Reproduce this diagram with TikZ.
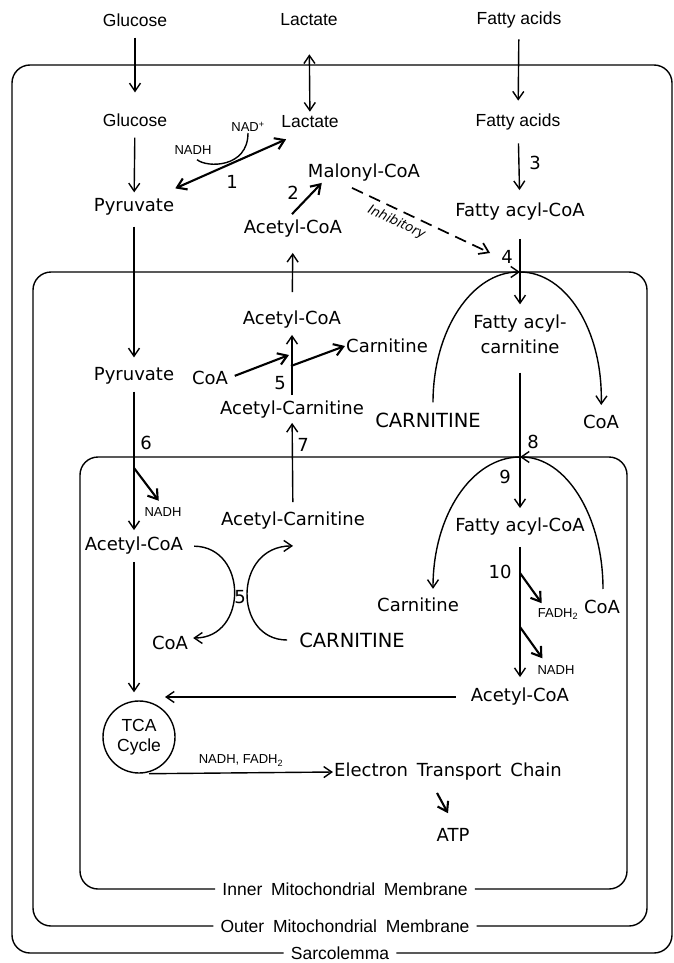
\documentclass[tikz,border=0pt]{standalone}
\usepackage{fontspec}
\setmainfont{DejaVu Sans}
\newfontfamily\narrowfont{Liberation Sans}
\usetikzlibrary{arrows.meta}

\tikzset{
  lbl/.style={font=\fontsize{18}{20}\selectfont, inner sep=1pt},
  nlbl/.style={font=\narrowfont\fontsize{17.5}{20}\selectfont, inner sep=1pt},
  sml/.style={font=\narrowfont\fontsize{13}{14}\selectfont, inner sep=1pt},
  num/.style={font=\fontsize{18}{20}\selectfont, inner sep=1pt},
  caps/.style={font=\fontsize{19.5}{20}\selectfont, inner sep=1pt},
  mlbl/.style={font=\narrowfont\fontsize{17.5}{20}\selectfont, inner sep=7pt},
  arr/.style={line width=1.4pt, -{Straight Barb[length=8pt,width=11pt]}},
  rxn/.style={line width=2.1pt, -{Straight Barb[length=9pt,width=12pt]}},
  membrane/.style={line width=1.4pt, rounded corners=18pt},
}

\begin{document}
\begin{tikzpicture}[x=1pt,y=-1pt]
\useasboundingbox (0,0) rectangle (674,963);

\node[nlbl] (glcOut) at (135,20) {Glucose};
\node[nlbl] (lacOut) at (309,20) {Lactate};
\node[nlbl] (faOut) at (519,20) {Fatty acids};

\node[nlbl] (glc) at (135,120) {Glucose};
\node[nlbl] (lac) at (310,122) {Lactate};
\node[nlbl] (fa) at (518,122) {Fatty acids};
\node[lbl] (pyr) at (134,207) {Pyruvate};
\node[sml] (nadhA) at (193,150) {NADH};
\node[sml] (nadp) at (248,127) {NAD\textsuperscript{+}};
\node[num] (n1) at (232,182) {1};
\node[lbl] (malcoa) at (364,173) {Malonyl-CoA};
\node[num] (n2) at (293,193) {2};
\node[lbl] (accoaA) at (293,229) {Acetyl-CoA};
\node[lbl] (facoaA) at (520,212) {Fatty acyl-CoA};
\node[num] (n3) at (535,163) {3};
\node[num] (n4) at (507,257) {4};

\node[lbl] (accoaB) at (292,320) {Acetyl-CoA};
\node[lbl] (coaA) at (210,378) {CoA};
\node[lbl] (carA) at (387,346) {Carnitine};
\node[num] (n5A) at (280,383) {5};
\node[lbl] (acarA) at (292,410) {Acetyl-Carnitine};
\node[lbl, align=center, font=\fontsize{18}{25}\selectfont] (facar) at (520,334) {Fatty acyl-\\carnitine};
\node[caps] (carnA) at (428,420) {CARNITINE};
\node[lbl] (coaB) at (601,422) {CoA};
\node[lbl] (pyrB) at (134,376) {Pyruvate};
\node[num] (n6) at (146,443) {6};
\node[num] (n7) at (303,445) {7};
\node[num] (n8) at (533,442) {8};

\node[num] (n9) at (505,477) {9};
\node[sml] (nadhB) at (163,512) {NADH};
\node[lbl] (accoaC) at (134,546) {Acetyl-CoA};
\node[lbl] (acarB) at (293,521) {Acetyl-Carnitine};
\node[num] (n5B) at (240,597) {5};
\node[lbl] (coaC) at (170,643) {CoA};
\node[caps] (carnB) at (352,640) {CARNITINE};
\node[lbl] (facoaB) at (520,527) {Fatty acyl-CoA};
\node[num] (n10) at (500,572) {10};
\node[lbl] (carB) at (418,605) {Carnitine};
\node[sml] (fadh) at (558,614) {FADH\textsubscript{2}};
\node[lbl] (coaD) at (602,607) {CoA};
\node[sml] (nadhC) at (556,670) {NADH};
\node[lbl] (accoaD) at (520,697) {Acetyl-CoA};
\node[nlbl, draw, circle, line width=1.4pt, minimum size=72pt, align=center] (tca) at (139,737) {TCA\\Cycle};
\node[lbl] (etc) at (448,772) {Electron\enspace Transport\enspace Chain};
\node[lbl] (atp) at (453,835) {ATP};

\coordinate (j4) at (520,272);
\coordinate (j8) at (520,457);
\coordinate (j5in) at (289,355);
\coordinate (j5out) at (291,366);
\coordinate (j6) at (134,468);
\coordinate (j10a) at (520,573);
\coordinate (j10b) at (520,627);
\coordinate (tcaIn) at (165,697);

\node[mlbl] (sarc) at (340,953) {Sarcolemma};
\node[mlbl] (outer) at (345,926) {Outer\enspace Mitochondrial\enspace Membrane};
\node[mlbl] (inner) at (345,889) {Inner\enspace Mitochondrial\enspace Membrane};
\draw[membrane] (sarc.east) -| (672,65) -| (12,953) -- (sarc.west);
\draw[membrane] (outer.east) -| (647,272) -| (33,926) -- (outer.west);
\draw[membrane] (inner.east) -| (627,457) -| (80,889) -- (inner.west);

\draw[arr, shorten <=10pt, shorten >=20pt] (glcOut) -- (glc);
\draw[line width=1.4pt, {Straight Barb[length=8pt,width=11pt]}-{Straight Barb[length=8pt,width=11pt]}, shorten <=27pt, shorten >=3pt] (lacOut) -- (lac);
\draw[arr, shorten <=10pt, shorten >=12pt] (faOut) -- (fa);
\draw[arr, shorten <=10pt, shorten >=5pt] (glc) -- (pyr);
\draw[rxn, {Straight Barb[length=9pt,width=12pt]}-{Straight Barb[length=9pt,width=12pt]}] ([shift={(6,10)}]lac.south west) -- ([shift={(0,-9)}]pyr.north east);
\draw[line width=1.4pt] ([shift={(4,4)}]nadhA.south) .. controls (207,168) and (248,168) .. (nadp.south);
\draw[rxn] ([shift={(-1,-5)}]accoaA.north) -- ([xshift=15pt]malcoa.south west);
\draw[line width=1.7pt, dash pattern=on 12pt off 7pt, -{Straight Barb[length=9pt,width=12pt]}] ([shift={(-12,5)}]malcoa.south) -- ([shift={(-10,-4)}]n4.west)
  node[pos=0.36, sloped, below=5pt, font=\itshape\fontsize{13}{14}\selectfont, inner sep=0pt] (inh) {Inhibitory};
\draw[arr, shorten <=12pt, shorten >=12pt] (fa) -- (facoaA);

\draw[arr, shorten <=17pt, shorten >=9pt] (facoaA) -- (facar);
\draw[arr, shorten <=9pt] ([xshift=5pt]carnA.north) .. controls (433,330) and (472,272) .. (j4);
\draw[arr, shorten >=9pt] (j4) .. controls (566,272) and (603,330) .. (coaB.north);
\draw[arr, shorten <=18pt, shorten >=9pt] (facar) -- (facoaB);
\draw[arr, shorten >=8pt] (j8) .. controls (472,457) and (433,515) .. ([xshift=15pt]carB.north);
\draw[arr, shorten <=10pt] ([xshift=1pt]coaD.north) .. controls (603,516) and (566,457) .. (j8);
\draw[arr, shorten <=10pt, shorten >=10pt] (facoaB) -- (accoaD);
\draw[rxn] (j10a) -- ([shift={(5,-4)}]fadh.north west);
\draw[rxn] (j10b) -- ([shift={(6,-6)}]nadhC.north west);
\draw[arr, shorten <=14pt] (accoaD) -- (tcaIn);

\draw[arr, shorten <=10pt, shorten >=9pt] (pyr) -- (pyrB);
\draw[arr, shorten <=6pt, shorten >=6pt] (pyrB) -- (accoaC);
\draw[rxn, shorten >=7pt] (j6) -- (nadhB.north);
\draw[arr, shorten <=6pt, shorten >=8pt] (accoaC) -- (accoaC |- tca.north);
\draw[arr, shorten <=10pt, shorten >=4pt] (accoaC.east) .. controls (248,547) and (248,638) .. ([yshift=5pt]coaC.east);
\draw[arr, shorten <=11pt] (carnB.west) .. controls (233,640) and (233,546) .. ([yshift=-15pt]acarB.south);
\draw[arr, shorten <=9pt, shorten >=3pt] (acarB) -- (acarA);
\draw[arr, shorten <=5pt, shorten >=5pt] (acarA) -- (accoaB);
\draw[rxn, shorten <=6pt] (coaA.east) -- (j5in);
\draw[rxn] (j5out) -- (carA.west);
\draw[arr, shorten <=18pt, shorten >=14pt] (accoaB) -- (accoaA);

\draw[arr] ([xshift=10pt]tca.south) -- (etc.west)
  node[sml, pos=0.5, above=5pt] (cof) {NADH, FADH\textsubscript{2}};
\draw[rxn] ([shift={(-11,11)}]etc.south) -- ([shift={(-5,-14)}]atp.north);
\end{tikzpicture}
\end{document}
